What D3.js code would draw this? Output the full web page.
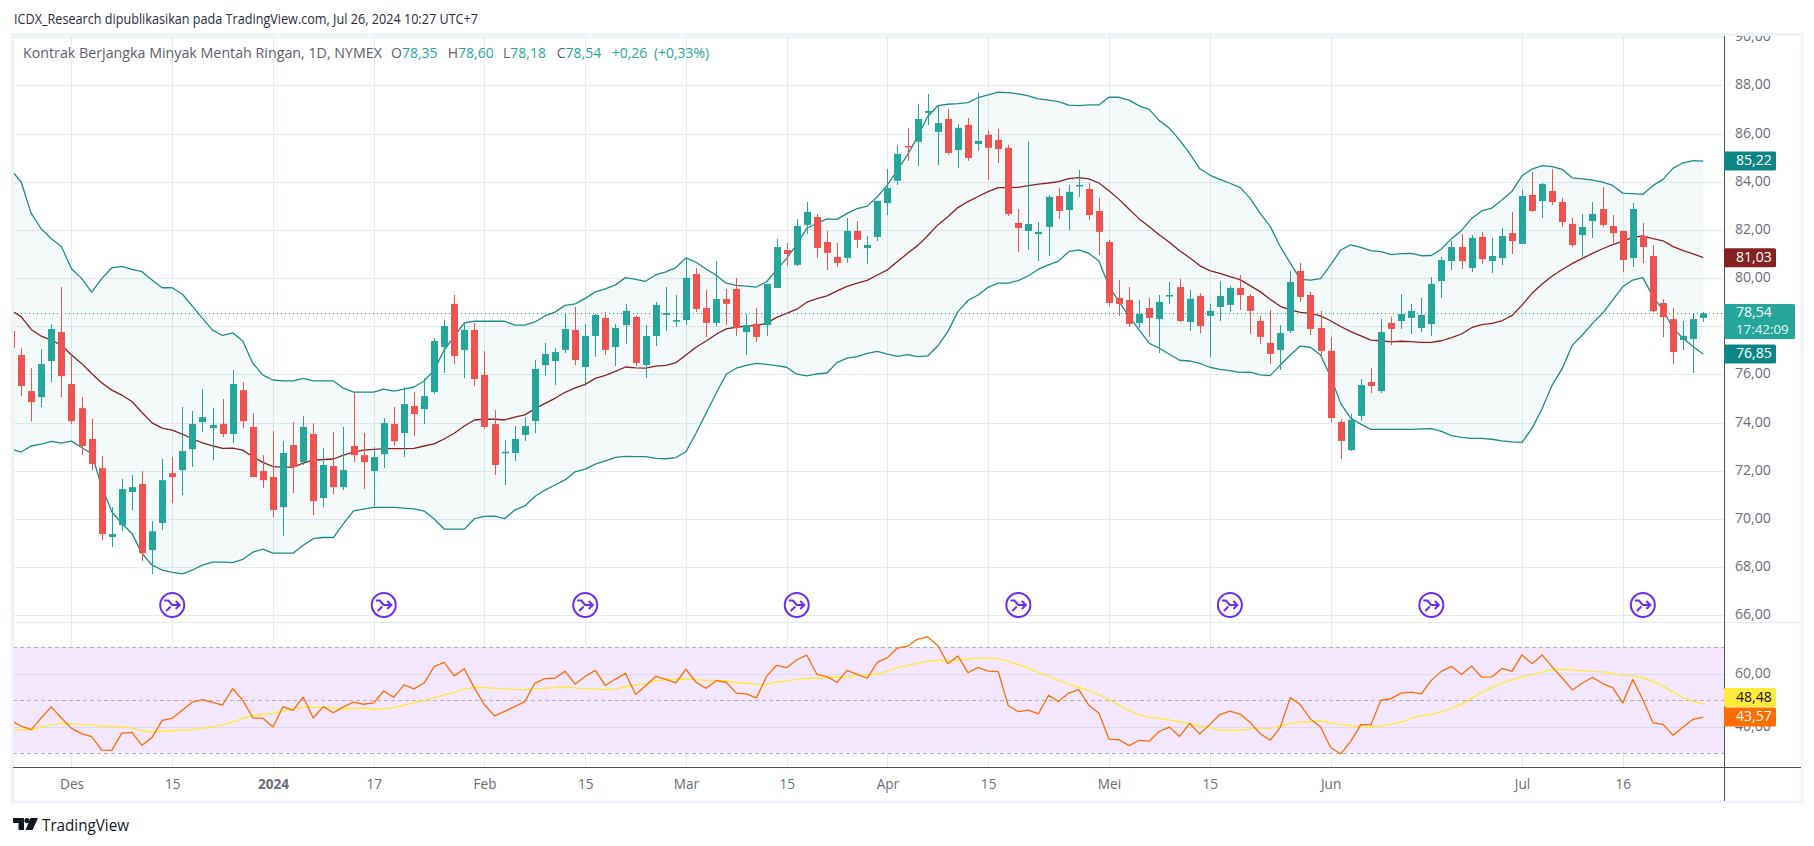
<!DOCTYPE html>
<html><head><meta charset="utf-8">
<script src="https://cdn.jsdelivr.net/npm/d3@7"></script>
<style>html,body{margin:0;padding:0;background:#fff;overflow:hidden}svg{display:block}text{font-family:"Open Sans",sans-serif}</style>
</head><body><div id="c"></div><script>
const opens=[77.80,76.81,75.31,75.06,76.56,77.76,75.60,74.60,73.32,72.11,
69.25,69.74,71.12,71.45,68.71,69.83,71.90,72.03,72.90,74.02,
73.77,73.94,73.53,75.35,73.82,71.99,71.74,70.49,73.07,72.36,
73.53,70.87,72.20,71.32,73.03,72.65,71.99,72.69,73.94,73.57,
74.69,74.56,75.27,77.14,78.93,77.02,77.85,75.98,73.94,72.74,
72.74,73.49,74.07,76.39,76.56,77.02,77.85,76.31,77.60,78.35,
77.14,78.05,78.39,76.39,77.60,78.47,78.19,78.26,80.17,78.76,
78.14,79.13,79.55,77.76,78.10,78.05,79.59,81.17,80.55,82.21,
82.54,81.50,80.88,80.84,81.96,81.25,81.71,83.12,84.04,85.49,
85.66,86.86,86.07,86.61,85.32,86.36,85.57,85.95,85.74,85.41,
82.29,81.96,81.83,82.13,83.41,82.83,83.83,83.70,82.79,81.50,
79.18,79.09,78.14,78.76,78.30,79.26,79.63,78.18,79.26,78.43,
78.80,78.89,79.59,79.26,78.22,77.31,77.02,77.81,80.30,79.30,
77.93,76.98,74.03,72.86,74.28,75.69,75.31,78.14,78.22,78.35,
77.93,78.09,79.88,80.71,81.29,80.42,81.71,80.71,80.83,81.87,
81.42,83.45,83.20,83.62,83.16,82.25,81.79,82.37,82.87,82.16,
81.96,80.83,81.75,80.92,78.97,78.30,77.43,77.47,78.35];
const highs=[78.10,77.08,76.27,77.05,78.09,79.63,76.81,75.06,74.15,72.61,
70.49,71.66,71.82,71.99,69.91,72.49,72.57,74.65,74.48,75.39,
74.60,74.98,76.18,75.68,74.40,72.65,73.65,73.23,74.02,74.27,
73.98,72.94,73.61,73.82,75.27,73.57,72.98,74.19,74.65,75.48,
75.27,75.85,77.51,78.26,79.30,78.14,78.14,76.97,74.52,73.28,
73.86,74.23,76.60,77.31,77.10,78.54,78.80,78.10,78.51,78.59,
78.10,78.93,78.43,78.05,79.01,79.63,79.30,80.84,80.42,79.51,
80.71,79.55,80.01,78.51,78.76,79.76,81.63,81.46,82.45,83.16,
82.66,81.96,81.46,82.50,82.37,81.75,83.21,84.53,85.53,86.24,
87.23,87.65,87.15,87.03,86.40,86.65,87.69,86.15,86.20,85.53,
82.87,85.66,82.33,83.45,83.74,83.87,84.49,83.95,83.33,81.59,
79.92,79.63,79.09,79.18,79.30,79.84,79.97,79.51,79.38,78.93,
79.88,79.68,80.13,79.34,78.43,78.68,78.05,80.30,80.63,79.43,
78.64,77.56,74.15,74.36,75.81,76.27,78.30,78.39,79.34,78.93,
79.18,80.05,80.88,81.54,81.83,81.79,81.91,81.67,82.08,82.75,
83.66,84.41,83.95,84.53,83.33,82.50,82.66,83.16,83.78,82.62,
81.96,83.12,82.29,81.37,79.13,78.76,78.22,78.55,78.60];
const lows=[76.90,75.10,74.06,74.65,75.68,75.06,73.94,72.65,72.03,69.12,
68.83,69.49,70.37,68.25,67.71,69.54,70.66,70.99,72.16,73.61,
72.45,73.40,73.15,73.77,71.74,71.28,70.08,69.29,71.08,72.24,
70.16,70.49,71.03,71.20,72.36,71.24,70.53,72.11,73.03,72.57,
73.44,73.94,75.19,76.06,76.44,75.85,75.52,73.74,71.83,71.41,
72.41,73.24,73.57,75.94,75.56,76.89,76.39,75.52,76.73,76.81,
76.35,77.27,76.35,75.85,77.18,77.81,77.97,78.05,78.59,77.56,
78.01,78.05,77.60,76.81,77.35,77.60,79.59,80.50,80.50,81.83,
80.84,80.34,80.46,80.63,81.25,80.59,81.54,82.62,83.87,84.87,
84.66,86.36,84.70,85.12,84.58,84.87,85.28,84.08,84.78,82.58,
81.09,81.17,80.71,80.92,82.46,82.00,83.37,82.42,80.96,78.84,
78.43,77.97,77.93,77.56,76.89,78.93,78.18,77.81,77.72,76.73,
78.22,78.60,78.68,77.68,77.27,76.44,76.19,77.72,79.01,77.64,
76.68,73.99,72.49,72.82,74.07,75.23,75.23,77.22,77.89,77.68,
77.76,77.60,79.17,80.34,80.38,80.25,80.59,80.21,80.54,81.00,
81.42,82.75,82.50,83.04,82.12,81.29,80.88,81.67,82.12,81.46,
80.25,80.46,80.63,78.59,77.55,76.43,77.01,76.06,78.18];
const closes=[77.11,75.52,74.85,76.43,77.89,75.93,74.06,73.03,72.28,69.37,
69.37,71.24,71.32,68.58,69.49,71.61,71.74,72.82,73.94,74.23,
73.90,73.53,75.60,74.06,71.74,71.61,70.37,72.74,72.16,73.82,
70.74,72.24,71.32,72.03,72.65,72.36,72.57,73.98,73.23,74.77,
74.36,75.10,77.39,78.01,76.77,77.85,75.81,73.82,72.24,72.79,
73.32,73.86,76.23,76.85,76.93,77.89,76.60,77.60,78.47,77.02,
77.93,78.64,76.48,77.60,78.89,78.55,78.26,80.01,78.72,78.14,
79.13,78.93,77.93,78.05,77.56,79.76,81.29,81.00,82.17,82.75,
81.25,81.05,80.63,81.96,81.59,81.38,83.21,83.74,85.16,85.45,
86.61,86.94,86.44,85.20,86.24,84.99,85.70,85.41,85.36,82.66,
82.08,82.25,81.92,83.37,82.79,83.58,83.87,82.62,81.92,78.97,
78.93,78.10,78.51,78.35,79.01,79.30,78.22,79.14,78.01,78.64,
79.26,79.59,79.30,78.64,77.56,76.85,77.72,79.84,79.22,77.89,
76.98,74.19,73.24,74.11,75.56,75.52,77.76,77.89,78.51,78.64,
78.47,79.76,80.75,81.29,80.71,81.67,80.79,80.92,81.75,81.54,
83.41,82.79,83.91,83.16,82.33,81.37,82.12,82.66,82.21,81.87,
80.75,82.87,81.29,78.63,78.38,76.93,77.60,78.30,78.54];
const bbUpper=[84.49,83.99,82.69,82.04,81.64,81.31,80.39,79.99,79.42,79.98,
80.43,80.49,80.36,80.27,79.92,79.60,79.60,79.34,78.84,78.33,
77.84,77.62,77.73,77.39,76.47,75.97,75.77,75.73,75.73,75.84,
75.73,75.73,75.73,75.43,75.27,75.27,75.27,75.39,75.31,75.39,
75.48,75.73,76.18,77.02,77.57,78.14,78.21,78.21,78.21,78.21,
78.05,78.05,78.18,78.43,78.59,78.87,78.93,79.16,79.43,79.55,
79.72,80.02,79.95,79.87,80.14,80.26,80.44,80.84,80.66,80.38,
80.12,79.79,79.70,79.67,79.63,79.85,80.34,80.82,81.40,82.07,
82.28,82.46,82.44,82.69,82.89,82.99,83.38,83.87,84.49,85.12,
85.88,86.71,87.16,87.22,87.25,87.29,87.50,87.61,87.72,87.70,
87.65,87.57,87.44,87.39,87.33,87.18,87.16,87.19,87.19,87.52,
87.51,87.39,87.15,87.01,86.54,86.22,85.74,85.18,84.55,84.28,
84.10,83.94,83.77,83.32,82.70,82.15,81.31,80.62,79.95,79.92,
79.98,80.55,81.17,81.38,81.28,81.14,81.10,80.98,81.02,81.03,
80.93,80.94,81.21,81.64,81.98,82.48,82.79,82.91,83.24,83.60,
84.25,84.53,84.67,84.63,84.52,84.16,84.12,84.07,83.99,83.85,
83.53,83.51,83.48,83.84,84.10,84.57,84.79,84.88,84.86];
const bbMiddle=[78.65,78.40,77.87,77.59,77.43,77.21,76.81,76.46,76.04,75.66,
75.35,75.14,74.88,74.42,73.99,73.77,73.69,73.52,73.33,73.16,
73.04,72.93,72.94,72.86,72.58,72.35,72.17,72.15,72.15,72.32,
72.44,72.47,72.49,72.65,72.78,72.86,72.89,72.92,72.92,72.92,
72.93,73.03,73.12,73.32,73.56,73.86,74.11,74.14,74.14,74.11,
74.23,74.32,74.57,74.80,75.01,75.26,75.44,75.59,75.84,75.96,
76.13,76.31,76.27,76.26,76.35,76.38,76.49,76.81,77.13,77.39,
77.67,77.89,77.96,78.01,78.04,78.12,78.37,78.54,78.71,79.00,
79.15,79.26,79.47,79.66,79.79,79.91,80.13,80.34,80.69,81.03,
81.35,81.76,82.21,82.55,82.93,83.18,83.39,83.59,83.76,83.76,
83.77,83.84,83.90,83.95,84.01,84.13,84.17,84.12,83.95,83.63,
83.27,82.86,82.46,82.13,81.79,81.49,81.14,80.85,80.52,80.31,
80.20,80.06,79.94,79.69,79.44,79.12,78.83,78.68,78.58,78.54,
78.43,78.23,77.99,77.78,77.60,77.43,77.40,77.35,77.38,77.36,
77.33,77.33,77.40,77.53,77.68,77.94,78.07,78.12,78.23,78.44,
78.88,79.37,79.76,80.09,80.36,80.61,80.82,81.03,81.22,81.39,
81.53,81.69,81.75,81.64,81.55,81.31,81.14,81.01,80.85];
const bbLower=[72.90,72.78,73.03,73.11,73.22,73.15,73.23,72.97,72.72,71.34,
70.30,69.81,69.40,68.57,68.08,67.88,67.78,67.72,67.88,68.08,
68.21,68.21,68.19,68.32,68.62,68.75,68.58,68.58,68.58,68.91,
69.18,69.23,69.23,69.81,70.34,70.41,70.48,70.48,70.48,70.45,
70.42,70.33,70.00,69.58,69.58,69.58,70.01,70.11,70.12,70.01,
70.37,70.54,70.93,71.20,71.41,71.62,71.96,72.07,72.28,72.41,
72.56,72.60,72.59,72.59,72.52,72.50,72.55,72.79,73.56,74.39,
75.22,76.01,76.26,76.38,76.46,76.42,76.37,76.30,76.01,75.94,
76.02,76.06,76.49,76.68,76.74,76.88,76.96,76.84,76.75,76.82,
76.74,76.77,77.18,77.78,78.61,79.07,79.30,79.62,79.79,79.79,
79.90,80.10,80.37,80.55,80.71,81.10,81.17,81.03,80.71,79.65,
79.02,78.40,77.85,77.29,77.09,76.84,76.59,76.56,76.46,76.30,
76.21,76.16,76.09,76.10,75.98,75.95,76.39,76.81,77.18,77.13,
76.81,75.91,74.80,74.18,73.94,73.72,73.72,73.72,73.72,73.72,
73.74,73.75,73.64,73.46,73.39,73.35,73.35,73.31,73.24,73.20,
73.18,73.76,74.59,75.56,76.25,77.22,77.64,78.12,78.54,79.09,
79.64,79.92,80.02,79.23,78.68,77.91,77.50,77.15,76.85];
const rsi=[42.3,40.1,38.8,43.2,47.4,43.2,39.3,37.3,36.2,31.1,
31.0,37.5,37.8,32.9,35.9,42.3,43.1,46.1,49.2,50.1,
49.1,48.1,54.3,49.9,43.3,43.1,39.8,47.5,46.1,51.1,
43.2,47.5,45.2,47.4,49.2,48.4,48.9,53.4,51.0,55.7,
54.2,56.4,62.6,64.2,59.1,61.8,54.5,48.2,44.0,45.7,
47.5,49.4,56.3,58.1,58.2,60.9,56.0,58.9,61.2,55.5,
57.9,60.1,52.1,55.4,58.9,57.8,56.5,61.6,56.7,54.4,
57.3,56.7,52.6,52.3,50.8,58.9,63.1,62.2,65.2,66.9,
59.7,58.8,56.7,61.2,59.7,58.2,64.2,66.0,69.6,70.3,
73.0,73.8,70.6,63.7,66.6,60.3,62.3,60.9,60.7,47.9,
45.6,46.2,44.8,51.8,49.4,52.6,53.9,48.0,45.0,35.2,
35.0,32.8,34.8,34.5,38.2,39.8,36.2,41.2,37.2,40.7,
44.5,45.8,44.7,41.6,37.3,34.8,39.7,50.9,48.2,42.8,
39.8,32.1,29.7,34.4,40.7,40.7,49.9,50.5,52.6,53.0,
52.3,57.4,60.8,62.7,59.6,62.8,58.6,58.7,61.9,60.8,
67.0,63.7,67.0,62.5,58.3,53.8,56.4,58.6,56.2,54.7,
48.9,57.7,50.1,41.4,40.8,36.7,39.8,42.7,43.57];
const rsiMa=[38.8,38.8,38.7,39.8,40.6,41.2,41.1,40.8,40.6,40.1,
40.1,39.9,39.4,38.4,37.9,38.2,38.4,38.6,38.8,39.4,
39.9,40.6,41.7,43.1,44.1,44.7,44.8,45.8,46.6,47.2,
47.2,47.2,47.0,46.7,46.9,46.9,46.5,46.7,47.1,48.0,
49.0,49.7,50.9,51.9,53.0,54.2,54.7,54.7,54.4,54.3,
54.0,53.9,54.2,54.4,54.7,55.0,54.5,54.3,54.3,53.9,
54.2,55.0,55.7,56.2,57.2,57.7,57.9,57.9,57.7,57.4,
57.4,57.2,56.5,56.3,55.9,55.8,56.8,57.2,57.7,58.2,
58.3,58.4,58.7,58.8,59.2,59.2,59.9,60.8,62.1,63.0,
63.8,64.7,65.0,64.8,65.0,65.5,65.8,65.7,65.7,64.6,
63.3,62.1,60.3,58.9,57.4,55.9,54.8,53.6,52.0,50.1,
48.2,46.1,44.5,43.5,43.0,42.5,41.8,41.1,40.2,39.6,
38.7,38.6,38.6,39.1,39.3,39.4,40.1,41.1,41.7,41.8,
42.1,41.4,40.8,40.3,40.1,39.9,40.3,40.8,41.7,43.1,
44.1,44.6,45.5,46.9,48.4,50.8,52.9,54.8,56.3,57.7,
58.7,59.6,60.6,61.3,61.6,61.3,61.1,60.8,60.6,59.9,
59.2,59.1,58.3,57.0,55.2,53.1,50.8,49.5,48.48];
const timeTickBars=[6,16,26,36,47,57,67,77,87,97,109,119,131,150,160];
const timeTickLabels=["Des","15","2024","17","Feb","15","Mar","15","Apr","15","Mei","15","Jun","Jul","16"];
const priceTicks=[66,68,70,72,74,76,78,80,82,84,86,88,90];
const priceLabels=[66,68,70,72,74,76,80,82,84,86,88,90];
const rsiGrid=[40,60];
const rsiBands=[30,50,70];
const eventBars=[16,37,57,78,100,121,141,162];

const W=1814,H=846,paneL=13,paneR=1724,frameR=1802,paneT=36,sep=622,axisY=767,frameB=802;
const fmt=d3.format(".2f"),comma=v=>fmt(v).replace(".",",");
const svg=d3.select("#c").append("svg").attr("width",W).attr("height",H);
const x=d3.scaleLinear().domain([0,168]).range([11.06,1703.3]);
const y=d3.scaleLinear().domain([66,90]).range([615.3,37.3]);
const yR=d3.scaleLinear().domain([30,70]).range([753,647]);
const G="#26a69a",R="#ef5350",GRID="#e3ecf2",TXT="#6a6d78",AF=14.1;
const defs=svg.append("defs");
defs.append("clipPath").attr("id","pp").append("rect").attr("x",paneL).attr("y",paneT).attr("width",paneR-paneL).attr("height",sep-paneT);
defs.append("clipPath").attr("id","rp").append("rect").attr("x",paneL).attr("y",sep).attr("width",paneR-paneL).attr("height",axisY-sep);
defs.append("clipPath").attr("id","ax").append("rect").attr("x",paneR).attr("y",paneT).attr("width",frameR-paneR).attr("height",axisY-paneT);

// header
svg.append("text").attr("x",14).attr("y",24).attr("font-size",14).attr("fill","#2a2e39")
 .attr("textLength",464).attr("lengthAdjust","spacingAndGlyphs")
 .text("ICDX_Research dipublikasikan pada TradingView.com, Jul 26, 2024 10:27 UTC+7");

// RSI background
svg.append("rect").attr("x",paneL).attr("y",yR(70)).attr("width",paneR-paneL).attr("height",yR(30)-yR(70)).attr("fill","#f4e7fd");

// grids via axes
const gridV=(g,a,b)=>{g.append("g").attr("transform",`translate(0,${b})`)
 .call(d3.axisTop(x).tickValues(timeTickBars).tickSize(b-a).tickFormat(""))
 .call(s=>s.select(".domain").remove()).selectAll("line").attr("stroke",GRID).attr("shape-rendering","crispEdges");};
const pg=svg.append("g").attr("clip-path","url(#pp)");
gridV(pg,paneT,sep);
pg.append("g").attr("transform",`translate(${paneL},0)`)
 .call(d3.axisRight(y).tickValues(priceTicks).tickSize(paneR-paneL).tickFormat(""))
 .call(s=>s.select(".domain").remove()).selectAll("line").attr("stroke",GRID).attr("shape-rendering","crispEdges");
const rg=svg.append("g").attr("clip-path","url(#rp)");
gridV(rg,sep,axisY);
rg.append("g").attr("transform",`translate(${paneL},0)`)
 .call(d3.axisRight(yR).tickValues(rsiGrid).tickSize(paneR-paneL).tickFormat(""))
 .call(s=>s.select(".domain").remove()).selectAll("line").attr("stroke","#dcd8ef").attr("shape-rendering","crispEdges");
rg.selectAll(".band").data(rsiBands).join("line").attr("x1",paneL).attr("x2",paneR).attr("y1",d=>yR(d)).attr("y2",d=>yR(d))
 .attr("stroke","#b5aeba").attr("stroke-dasharray","4 3").attr("shape-rendering","crispEdges");

// Bollinger bands
const idx=d3.range(169);
pg.append("path").datum(idx).attr("fill","#1f8a8a").attr("fill-opacity",0.05)
 .attr("d",d3.area().x(i=>x(i)).y0(i=>y(bbLower[i])).y1(i=>y(bbUpper[i])));
const ln=(g,arr,sc,col,w)=>g.append("path").datum(idx).attr("fill","none").attr("stroke",col).attr("stroke-width",w).attr("stroke-linejoin","round")
 .attr("d",d3.line().x(i=>x(i)).y(i=>sc(arr[i])));
ln(pg,bbUpper,y,"#1f8a8a",1.3);
ln(pg,bbLower,y,"#1f8a8a",1.3);
ln(pg,bbMiddle,y,"#872323",1.3);

// last price line
const lastY=Math.round(y(closes[168]))+.5;
pg.append("line").attr("x1",paneL).attr("x2",paneR).attr("y1",lastY).attr("y2",lastY)
 .attr("stroke","#1f8f88").attr("stroke-dasharray","1 3").attr("shape-rendering","crispEdges");

// candles
const c=pg.selectAll(".c").data(idx).join("g");
c.append("line").attr("x1",i=>Math.round(x(i))+.5).attr("x2",i=>Math.round(x(i))+.5)
 .attr("y1",i=>y(highs[i])).attr("y2",i=>y(lows[i]))
 .attr("stroke",i=>closes[i]>=opens[i]?G:R).attr("stroke-width",1);
c.append("rect").attr("x",i=>Math.round(x(i))-3).attr("width",7)
 .attr("y",i=>y(Math.max(opens[i],closes[i])))
 .attr("height",i=>Math.max(1.5,Math.abs(y(opens[i])-y(closes[i]))))
 .attr("fill",i=>closes[i]>=opens[i]?G:R);

// RSI lines
ln(rg,rsiMa,yR,"#ffe93b",1.4);
ln(rg,rsi,yR,"#ff6d00",1.3);

// event icons
const ev=svg.selectAll(".ev").data(eventBars).join("g").attr("transform",d=>`translate(${x(d)},605)`);
ev.append("circle").attr("r",12).attr("fill","#fff").attr("stroke","#6d2cf5").attr("stroke-width",2);
ev.append("path").attr("fill","none").attr("stroke","#6d2cf5").attr("stroke-width",2)
 .attr("d","M-8,-4.5 L-4,-4.5 L0,0 L7,0 M3.5,-4 L7.5,0 L3.5,4 M-6,6 L-1.5,1.5");

// frame
const frame="#f0f3fa";
svg.append("rect").attr("x",12.5).attr("y",34.5).attr("width",frameR-12.5).attr("height",frameB-34.5).attr("fill","none").attr("stroke",frame).attr("stroke-width",3);
svg.append("line").attr("x1",paneL).attr("x2",frameR-1).attr("y1",sep).attr("y2",sep).attr("stroke",GRID).attr("shape-rendering","crispEdges");

// price axis
const pa=svg.append("g").attr("clip-path","url(#ax)");
pa.append("g").attr("transform",`translate(1735,0)`)
 .call(d3.axisRight(y).tickValues(priceLabels).tickSize(0).tickPadding(0).tickFormat(comma))
 .call(s=>s.select(".domain").remove())
 .selectAll("text").attr("y",-1).attr("font-size",AF).attr("fill",TXT).style("font-family",'"Open Sans",sans-serif');
// rsi axis
svg.append("g").attr("transform",`translate(1735,0)`)
 .call(d3.axisRight(yR).tickValues(rsiGrid).tickSize(0).tickPadding(0).tickFormat(comma))
 .call(s=>s.select(".domain").remove())
 .selectAll("text").attr("y",-1).attr("font-size",AF).attr("fill",TXT).style("font-family",'"Open Sans",sans-serif');

// axes lines
svg.append("line").attr("x1",paneR+.5).attr("x2",paneR+.5).attr("y1",paneT).attr("y2",frameB-1).attr("stroke","#50535e").attr("shape-rendering","crispEdges");
svg.append("line").attr("x1",paneL).attr("x2",frameR-1).attr("y1",axisY+.5).attr("y2",axisY+.5).attr("stroke","#50535e").attr("shape-rendering","crispEdges");

// time axis
svg.append("g").attr("transform",`translate(0,${axisY})`)
 .call(d3.axisBottom(x).tickValues(timeTickBars).tickSize(0).tickPadding(12).tickFormat((d,i)=>timeTickLabels[i]))
 .call(s=>s.select(".domain").remove())
 .selectAll("text").attr("font-size",13.6).attr("fill",TXT).style("font-family",'"Open Sans",sans-serif')
 .attr("font-weight",(d,i)=>timeTickLabels[i]==="2024"?700:400);

// last value labels
function tag(yc,txt,bg,fg){
 svg.append("rect").attr("x",paneR).attr("y",yc-9.5).attr("width",52).attr("height",19).attr("rx",1.5).attr("fill",bg);
 svg.append("text").attr("x",1736).attr("y",yc+4.4).attr("font-size",AF).attr("fill",fg).text(txt);
}
const last=168;
tag(y(bbUpper[last]),"85,22","#0f8585","#fff");
tag(y(bbMiddle[last]),"81,03","#842121","#fff");
tag(y(bbLower[last]),"76,85","#0f8585","#fff");
svg.append("rect").attr("x",paneR).attr("y",304).attr("width",71).attr("height",35).attr("rx",1.5).attr("fill",G);
svg.append("text").attr("x",1736).attr("y",317).attr("font-size",AF).attr("fill","#fff").text(comma(closes[last]));
svg.append("text").attr("x",1736).attr("y",333.5).attr("font-size",13.3).attr("fill","#e4f4f2").text("17:42:09");
tag(yR(rsi[last])-19.5,comma(rsiMa[last]),"#ffeb3b","#131722");
tag(yR(rsi[last]),comma(rsi[last]),"#ff6d00","#fff");

// legend
const lg=svg.append("g").attr("font-size",14);
lg.append("text").attr("x",23).attr("y",58).attr("fill","#5d606b").attr("textLength",359).attr("lengthAdjust","spacingAndGlyphs").text("Kontrak Berjangka Minyak Mentah Ringan, 1D, NYMEX");
const legendItems=[["O","78,35",391],["H","78,60",447.7],["L","78,18",503],["C","78,54",556.7]];
legendItems.forEach(([k,v,px])=>{
 const t=lg.append("text").attr("x",px).attr("y",58);
 t.append("tspan").attr("fill","#5d606b").text(k);
 t.append("tspan").attr("fill",G).text(v);
});
lg.append("text").attr("x",611.7).attr("y",58).attr("fill",G).text("+0,26");
lg.append("text").attr("x",654).attr("y",58).attr("fill",G).attr("textLength",55).attr("lengthAdjust","spacingAndGlyphs").text("(+0,33%)");

// footer logo
const lo=svg.append("g").attr("transform","translate(13,818)").attr("fill","#131722");
lo.append("path").attr("d","M0,0 H11 V12 H5.5 V5 H0 Z");
lo.append("circle").attr("cx",14).attr("cy",2.6).attr("r",2.6);
lo.append("path").attr("d","M17.5,0 H25 L19.5,12 H12.5 Z");
svg.append("text").attr("x",42).attr("y",830.5).attr("font-size",15.5).attr("fill","#131722").attr("textLength",87).attr("lengthAdjust","spacingAndGlyphs").text("TradingView");
</script></body></html>
